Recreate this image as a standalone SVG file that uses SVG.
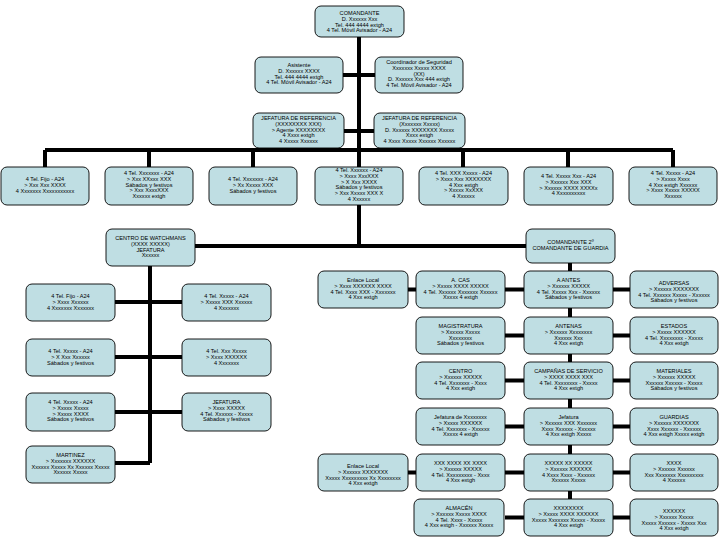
<svg xmlns="http://www.w3.org/2000/svg" width="720" height="540" viewBox="0 0 720 540">
<style>
.b{fill:#BFDEE3;stroke:#000;stroke-width:0.9}
.t{font-family:"Liberation Sans",Arial,sans-serif;font-size:5.6px;fill:#000;text-anchor:middle}
.c{stroke:#000;stroke-width:4;fill:none}
</style>
<rect width="720" height="540" fill="#fff"/>
<g id="connectors">
<path class="c" d="M359,37V246M343,75H375M344,131H374M45,150H673M45,150V167M149,150V167M253,150V167M463,150V167M568,150V167M673,150V167"/>
<path class="c" d="M195,246H526M150,266V463M115,302H182M115,357H182M115,412H182M115,463H150"/>
<path class="c" d="M570,263V499M408,289.5H630M505,335.5H630M505,380.5H630M505,426.5H630M408,472.5H630M505,517.5H630"/>
</g>
<g id="n0"><rect class="b" x="315" y="6" width="89" height="31" rx="6"/><text class="t" x="359.5" y="15">COMANDANTE<tspan x="359.5" dy="5.8">D. Xxxxxx Xxx</tspan><tspan x="359.5" dy="5.8">Tel. 444 4444 extgh</tspan><tspan x="359.5" dy="5.8">4 Tel. Móvil Avisador - A24</tspan></text></g>
<g id="n1"><rect class="b" x="255" y="57" width="88" height="36" rx="6"/><text class="t" x="299" y="67">Asistente<tspan x="299" dy="5.8">D. Xxxxxx XXXX</tspan><tspan x="299" dy="5.8">Tel. 444 4444 extgh</tspan><tspan x="299" dy="5.8">4 Tel. Móvil Avisador - A24</tspan></text></g>
<g id="n2"><rect class="b" x="375" y="57" width="88" height="36" rx="6"/><text class="t" x="419" y="64">Coordinador de Seguridad<tspan x="419" dy="5.8">Xxxxxxx Xxxxx XXXX</tspan><tspan x="419" dy="5.8">(XX)</tspan><tspan x="419" dy="5.8">D. Xxxxxx Xxx 444 extgh</tspan><tspan x="419" dy="5.8">4 Tel. Móvil Avisador - A24</tspan></text></g>
<g id="n3"><rect class="b" x="253" y="113" width="91" height="35" rx="6"/><text class="t" x="298.5" y="120">JEFATURA DE REFERENCIA<tspan x="298.5" dy="5.8">(XXXXXXXX XXX)</tspan><tspan x="298.5" dy="5.8">&gt; Agente XXXXXXXX</tspan><tspan x="298.5" dy="5.8">4 Xxxx extgh</tspan><tspan x="298.5" dy="5.8">4 Xxxxx Xxxxxx</tspan></text></g>
<g id="n4"><rect class="b" x="374" y="113" width="91" height="35" rx="6"/><text class="t" x="419.5" y="120">JEFATURA DE REFERENCIA<tspan x="419.5" dy="5.8">(Xxxxxxx Xxxxx)</tspan><tspan x="419.5" dy="5.8">D. Xxxxxx XXXXXXX Xxxxx</tspan><tspan x="419.5" dy="5.8">Xxxx extgh</tspan><tspan x="419.5" dy="5.8">4 Xxxx Xxxxx Xxxxxx Xxxxxx</tspan></text></g>
<g id="b1"><rect class="b" x="1" y="167" width="88" height="38" rx="6"/><text class="t" x="45" y="181">4 Tel. Fijo - A24<tspan x="45" dy="5.8">&gt; Xxx Xxx XXXX</tspan><tspan x="45" dy="5.8">4 Xxxxxxx Xxxxxxxxxxx</tspan></text></g>
<g id="b2"><rect class="b" x="105" y="167" width="88" height="38" rx="6"/><text class="t" x="149" y="175">4 Tel. Xxxxxxx - A24<tspan x="149" dy="5.8">&gt; Xxx XXxxx XXX</tspan><tspan x="149" dy="5.8">Sábados y festivos</tspan><tspan x="149" dy="5.8">&gt; Xxx XxxxXXX</tspan><tspan x="149" dy="5.8">Xxxxxx extgh</tspan></text></g>
<g id="b3"><rect class="b" x="209" y="167" width="88" height="38" rx="6"/><text class="t" x="253" y="181">4 Tel. Xxxxxxx - A24<tspan x="253" dy="5.8">&gt; Xx Xxxxx XXX</tspan><tspan x="253" dy="5.8">Sábados y festivos</tspan></text></g>
<g id="b4"><rect class="b" x="315" y="167" width="88" height="38" rx="6"/><text class="t" x="359" y="172">4 Tel. Xxxxxx - A24<tspan x="359" dy="5.8">&gt; Xxxx XxxXXX</tspan><tspan x="359" dy="5.8">&gt; X Xxx XXXX</tspan><tspan x="359" dy="5.8">Sábados y festivos</tspan><tspan x="359" dy="5.8">&gt; Xxx Xxxxx XXX X</tspan><tspan x="359" dy="5.8">4 Xxxxxx</tspan></text></g>
<g id="b5"><rect class="b" x="419" y="167" width="89" height="38" rx="6"/><text class="t" x="463.5" y="175">4 Tel. XXX Xxxxx - A24<tspan x="463.5" dy="5.8">&gt; Xxxx Xxx XXXXXXX</tspan><tspan x="463.5" dy="5.8">4 Xxx extgh</tspan><tspan x="463.5" dy="5.8">&gt; Xxxxx XxXXX</tspan><tspan x="463.5" dy="5.8">4 Xxxxxx</tspan></text></g>
<g id="b6"><rect class="b" x="524" y="167" width="89" height="38" rx="6"/><text class="t" x="568.5" y="178">4 Tel. Xxxxx Xxx - A24<tspan x="568.5" dy="5.8">&gt; Xxxxxx Xxx XXX</tspan><tspan x="568.5" dy="5.8">&gt; Xxxxxx XXXX XXXXx</tspan><tspan x="568.5" dy="5.8">4 Xxxxxxxxxx</tspan></text></g>
<g id="b7"><rect class="b" x="629" y="167" width="88" height="38" rx="6"/><text class="t" x="673" y="175">4 Tel. Xxxxx - A24<tspan x="673" dy="5.8">&gt; Xxxxx Xxxx</tspan><tspan x="673" dy="5.8">4 Xxx extgh Xxxxxx</tspan><tspan x="673" dy="5.8">&gt; Xxxx Xxxxx XXXXX</tspan><tspan x="673" dy="5.8">Xxxxxx</tspan></text></g>
<g id="lh"><rect class="b" x="106" y="229" width="89" height="37" rx="6"/><text class="t" x="150.5" y="240">CENTRO DE WATCHMANS<tspan x="150.5" dy="5.8">(XXXX XXXXX)</tspan><tspan x="150.5" dy="5.8">JEFATURA</tspan><tspan x="150.5" dy="5.8">Xxxxxx</tspan></text></g>
<g id="l1"><rect class="b" x="26" y="284" width="89" height="37" rx="6"/><text class="t" x="70.5" y="298">4 Tel. Fijo - A24<tspan x="70.5" dy="5.8">&gt; Xxxx Xxxxxx</tspan><tspan x="70.5" dy="5.8">4 Xxxxxxx Xxxxxxx</tspan></text></g>
<g id="r1"><rect class="b" x="182" y="284" width="89" height="37" rx="6"/><text class="t" x="226.5" y="298">4 Tel. Xxxxx - A24<tspan x="226.5" dy="5.8">&gt; Xxxxx XXX Xxxxxx</tspan><tspan x="226.5" dy="5.8">4 Xxxxxxx</tspan></text></g>
<g id="l2"><rect class="b" x="26" y="339" width="89" height="37" rx="6"/><text class="t" x="70.5" y="353">4 Tel. Xxxxx - A24<tspan x="70.5" dy="5.8">&gt; X Xxx Xxxxxx</tspan><tspan x="70.5" dy="5.8">Sábados y festivos</tspan></text></g>
<g id="r2"><rect class="b" x="182" y="339" width="89" height="37" rx="6"/><text class="t" x="226.5" y="353">4 Tel. Xxx Xxxxx<tspan x="226.5" dy="5.8">&gt; Xxxx XXXXXX</tspan><tspan x="226.5" dy="5.8">4 Xxxxxxx</tspan></text></g>
<g id="l3"><rect class="b" x="26" y="393" width="89" height="38" rx="6"/><text class="t" x="70.5" y="404">4 Tel. Xxxxx - A24<tspan x="70.5" dy="5.8">&gt; Xxxxx Xxxxx</tspan><tspan x="70.5" dy="5.8">&gt; Xxxxx XXXX</tspan><tspan x="70.5" dy="5.8">Sábados y festivos</tspan></text></g>
<g id="r3"><rect class="b" x="182" y="393" width="89" height="38" rx="6"/><text class="t" x="226.5" y="404">JEFATURA<tspan x="226.5" dy="5.8">&gt; Xxxx XXXXX</tspan><tspan x="226.5" dy="5.8">4 Tel. Xxxxxx - Xxxxx</tspan><tspan x="226.5" dy="5.8">Sábados y festivos</tspan></text></g>
<g id="l4"><rect class="b" x="26" y="446" width="89" height="37" rx="6"/><text class="t" x="70.5" y="457">MARTINEZ<tspan x="70.5" dy="5.8">&gt; Xxxxxxx XXXXXX</tspan><tspan x="70.5" dy="5.8">Xxxxxx Xxxxx Xx Xxxxxx Xxxxx</tspan><tspan x="70.5" dy="5.8">Xxxxxx Xxxxx</tspan></text></g>
<g id="rh"><rect class="b" x="526" y="229" width="89" height="34" rx="6"/><text class="t" x="570.5" y="244">COMANDANTE 2º<tspan x="570.5" dy="5.8">COMANDANTE DE GUARDIA</tspan></text></g>
<g id="e1"><rect class="b" x="318" y="271" width="90" height="37" rx="6"/><text class="t" x="363" y="282">Enlace Local<tspan x="363" dy="5.8">&gt; Xxxx XXXXXX XXXX</tspan><tspan x="363" dy="5.8">4 Tel. Xxxx XXX - Xxxxxxx</tspan><tspan x="363" dy="5.8">4 Xxx extgh</tspan></text></g>
<g id="a1"><rect class="b" x="416" y="271" width="89" height="37" rx="6"/><text class="t" x="460.5" y="282">A. CAS<tspan x="460.5" dy="5.8">&gt; Xxxxx XXXX XXXXX</tspan><tspan x="460.5" dy="5.8">4 Tel. Xxxxxx Xxxxxxx Xxxxxx</tspan><tspan x="460.5" dy="5.8">Xxxxx 4 extgh</tspan></text></g>
<g id="c1"><rect class="b" x="524" y="271" width="89" height="37" rx="6"/><text class="t" x="568.5" y="282">A ANTES<tspan x="568.5" dy="5.8">&gt; Xxxxxx XXXXX</tspan><tspan x="568.5" dy="5.8">4 Tel. Xxxxx Xxx - Xxxxxx</tspan><tspan x="568.5" dy="5.8">Sábados y festivos</tspan></text></g>
<g id="d1"><rect class="b" x="630" y="271" width="88" height="37" rx="6"/><text class="t" x="674" y="285">ADVERSAS<tspan x="674" dy="5.8">&gt; Xxxxxx XXXXXXX</tspan><tspan x="674" dy="5.8">4 Tel. Xxxxxx Xxxxx - Xxxxxx</tspan><tspan x="674" dy="5.8">Sábados y festivos</tspan></text></g>
<g id="a2"><rect class="b" x="416" y="317" width="89" height="37" rx="6"/><text class="t" x="460.5" y="328">MAGISTRATURA<tspan x="460.5" dy="5.8">&gt; Xxxxxx Xxxxx</tspan><tspan x="460.5" dy="5.8">Xxxxxxxx</tspan><tspan x="460.5" dy="5.8">Sábados y festivos</tspan></text></g>
<g id="c2"><rect class="b" x="524" y="317" width="89" height="37" rx="6"/><text class="t" x="568.5" y="328">ANTENAS<tspan x="568.5" dy="5.8">&gt; Xxxxxx Xxxxxxxx</tspan><tspan x="568.5" dy="5.8">Xxxxxx Xxx</tspan><tspan x="568.5" dy="5.8">4 Xxx extgh</tspan></text></g>
<g id="d2"><rect class="b" x="630" y="317" width="88" height="37" rx="6"/><text class="t" x="674" y="328">ESTADOS<tspan x="674" dy="5.8">&gt; Xxxxx XXXXXX</tspan><tspan x="674" dy="5.8">4 Tel. Xxxxxxxx - Xxxxx</tspan><tspan x="674" dy="5.8">4 Xxx extgh</tspan></text></g>
<g id="a3"><rect class="b" x="416" y="362" width="89" height="37" rx="6"/><text class="t" x="460.5" y="373">CENTRO<tspan x="460.5" dy="5.8">&gt; Xxxxxx XXXXX</tspan><tspan x="460.5" dy="5.8">4 Tel. Xxxxxxx - Xxxx</tspan><tspan x="460.5" dy="5.8">4 Xxx extgh</tspan></text></g>
<g id="c3"><rect class="b" x="524" y="362" width="89" height="37" rx="6"/><text class="t" x="568.5" y="373">CAMPAÑAS DE SERVICIO<tspan x="568.5" dy="5.8">&gt; XXXX XXXX XXX</tspan><tspan x="568.5" dy="5.8">4 Tel. Xxxxxxxx - Xxxxx</tspan><tspan x="568.5" dy="5.8">4 Xxx extgh</tspan></text></g>
<g id="d3"><rect class="b" x="630" y="362" width="88" height="37" rx="6"/><text class="t" x="674" y="373">MATERIALES<tspan x="674" dy="5.8">&gt; Xxxxxx XXXXX</tspan><tspan x="674" dy="5.8">Xxxxxx Xxxxxx - Xxxxx</tspan><tspan x="674" dy="5.8">Sábados y festivos</tspan></text></g>
<g id="a4"><rect class="b" x="416" y="408" width="89" height="37" rx="6"/><text class="t" x="460.5" y="419">Jefatura de Xxxxxxxx<tspan x="460.5" dy="5.8">&gt; Xxxxx XXXXXX</tspan><tspan x="460.5" dy="5.8">4 Tel. Xxxxxxx - Xxxxxx</tspan><tspan x="460.5" dy="5.8">Xxxxx 4 extgh</tspan></text></g>
<g id="c4"><rect class="b" x="524" y="408" width="89" height="37" rx="6"/><text class="t" x="568.5" y="419">Jefatura<tspan x="568.5" dy="5.8">&gt; Xxxxxx XXX Xxxxxxx</tspan><tspan x="568.5" dy="5.8">Xxxx Xxxxxx - Xxxxxx</tspan><tspan x="568.5" dy="5.8">4 Xxx extgh Xxxxx</tspan></text></g>
<g id="d4"><rect class="b" x="630" y="408" width="88" height="37" rx="6"/><text class="t" x="674" y="419">GUARDIAS<tspan x="674" dy="5.8">&gt; Xxxxxx XXXXXXX</tspan><tspan x="674" dy="5.8">Xxxx Xxxxxx - Xxxxxx</tspan><tspan x="674" dy="5.8">4 Xxx extgh Xxxxx extgh</tspan></text></g>
<g id="e5"><rect class="b" x="318" y="454" width="90" height="37" rx="6"/><text class="t" x="363" y="468">Enlace Local<tspan x="363" dy="5.8">&gt; Xxxxxx XXXXXXX</tspan><tspan x="363" dy="5.8">Xxxxx Xxxxxxxxx Xx Xxxxxxxx</tspan><tspan x="363" dy="5.8">4 Xxx extgh</tspan></text></g>
<g id="a5"><rect class="b" x="416" y="454" width="89" height="37" rx="6"/><text class="t" x="460.5" y="465">XXX XXXX XX XXXX<tspan x="460.5" dy="5.8">&gt; Xxxxxx XXXXX</tspan><tspan x="460.5" dy="5.8">4 Tel. Xxxxxxxxx - Xxxx</tspan><tspan x="460.5" dy="5.8">4 Xxx extgh</tspan></text></g>
<g id="c5"><rect class="b" x="524" y="454" width="89" height="37" rx="6"/><text class="t" x="568.5" y="465">XXXXX XX XXXXX<tspan x="568.5" dy="5.8">&gt; Xxxxxx XXXXXX</tspan><tspan x="568.5" dy="5.8">4 Xxxx Xxxx - Xxxxxx</tspan><tspan x="568.5" dy="5.8">Xxxxxx Xxxxx</tspan></text></g>
<g id="d5"><rect class="b" x="630" y="454" width="88" height="37" rx="6"/><text class="t" x="674" y="465">XXXX<tspan x="674" dy="5.8">&gt; Xxxxxx Xxxxxx</tspan><tspan x="674" dy="5.8">Xxx Xxxxxxx Xxxxxxxxx</tspan><tspan x="674" dy="5.8">4 Xxxxxx</tspan></text></g>
<g id="a6"><rect class="b" x="414" y="499" width="90" height="37" rx="6"/><text class="t" x="459" y="510">ALMACÉN<tspan x="459" dy="5.8">&gt; Xxxxxx Xxxxx XXXX</tspan><tspan x="459" dy="5.8">4 Tel. Xxxx - Xxxxx</tspan><tspan x="459" dy="5.8">4 Xxx extgh - Xxxxxx Xxxxx</tspan></text></g>
<g id="c6"><rect class="b" x="524" y="499" width="89" height="37" rx="6"/><text class="t" x="568.5" y="510">XXXXXXXX<tspan x="568.5" dy="5.8">&gt; Xxxxx XXXX XXXXXX</tspan><tspan x="568.5" dy="5.8">Xxxxx Xxxxxxx Xxxxx - Xxxxx</tspan><tspan x="568.5" dy="5.8">4 Xxx extgh</tspan></text></g>
<g id="d6"><rect class="b" x="630" y="499" width="88" height="37" rx="6"/><text class="t" x="674" y="513">XXXXXX<tspan x="674" dy="5.8">&gt; Xxxxxx Xxxxx</tspan><tspan x="674" dy="5.8">Xxxxx Xxxxxx - Xxxxx Xxx</tspan><tspan x="674" dy="5.8">4 Xxx extgh</tspan></text></g>
</svg>
